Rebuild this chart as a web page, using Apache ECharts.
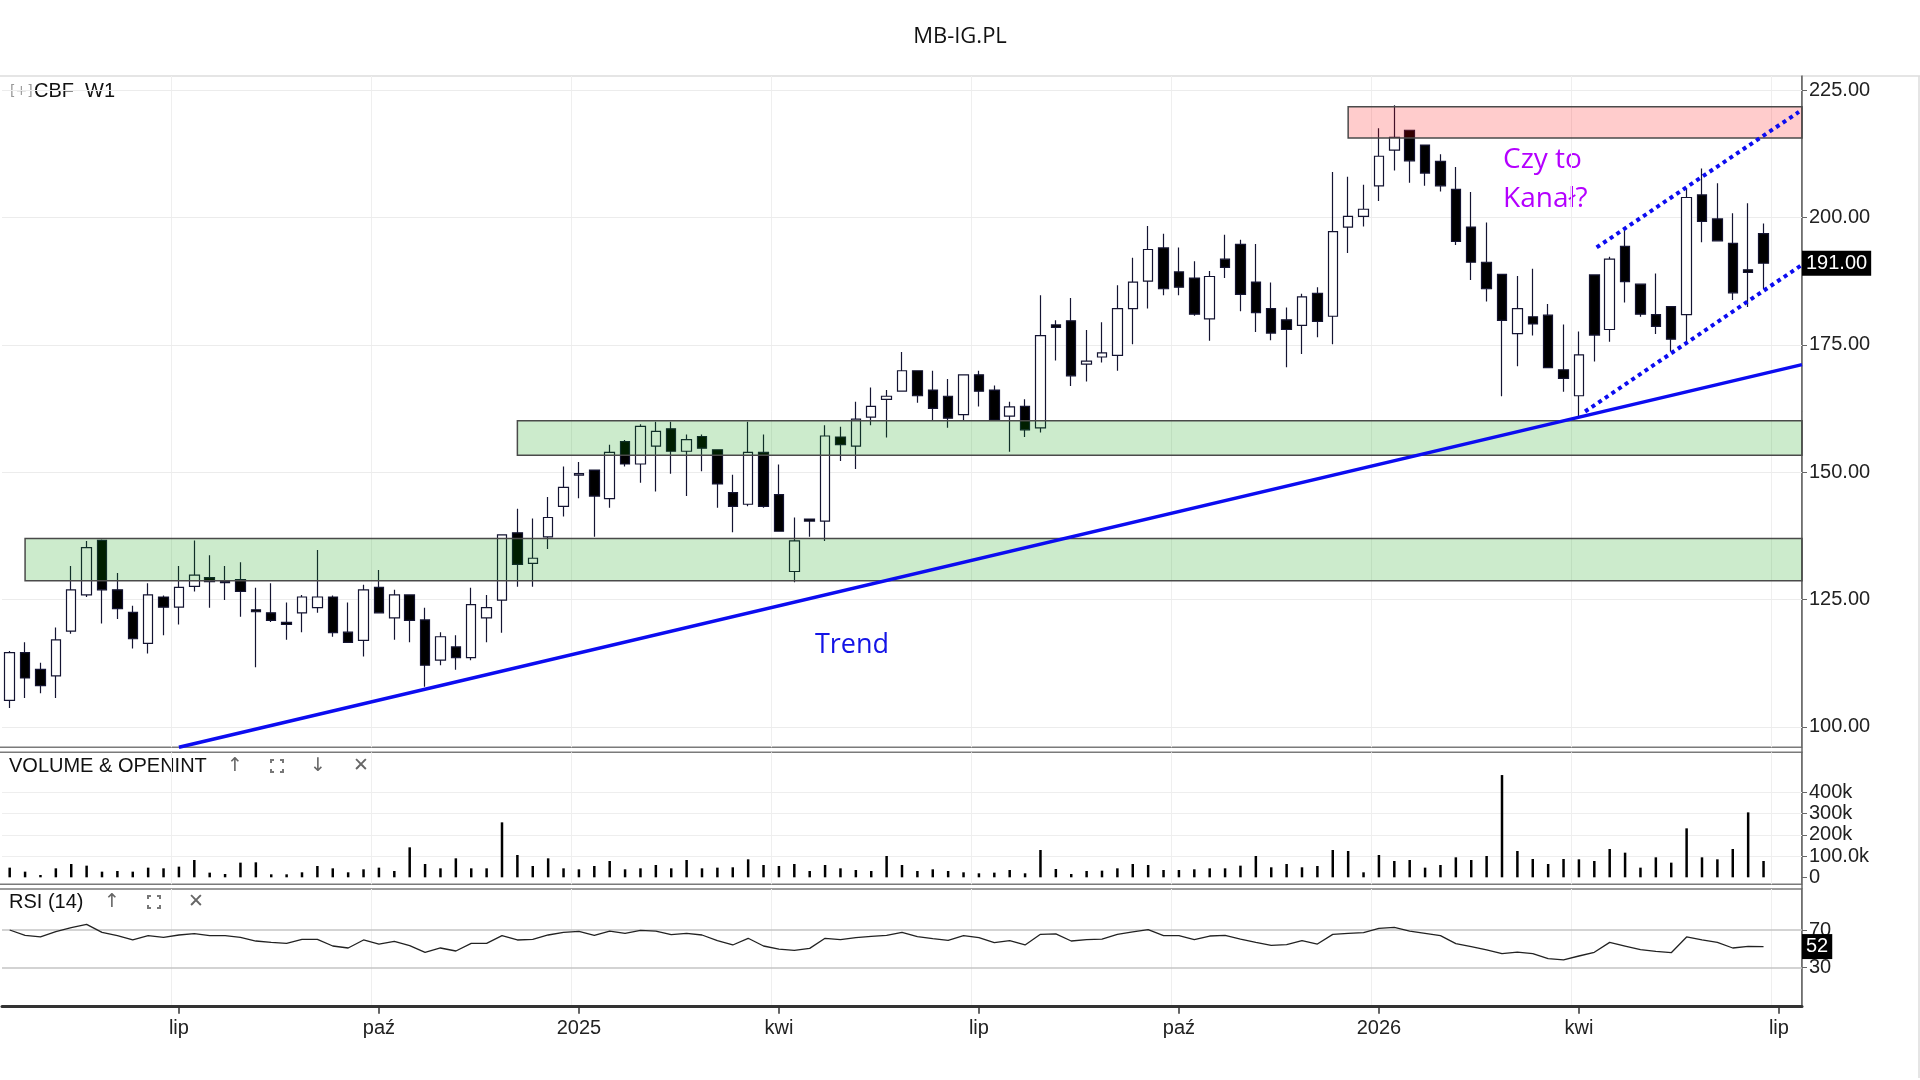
<!doctype html>
<html>
<head>
<meta charset="utf-8">
<title>MB-IG.PL</title>
<style>
  html, body { margin: 0; padding: 0; background: #fff; }
  #main { width: 1920px; height: 1080px; }
</style>
</head>
<body>
<div id="main"></div>
<script src="https://cdn.jsdelivr.net/npm/echarts@6/dist/echarts.min.js"></script>
<script>
// weekly candles, first week starts 2024-04-15, two empty weeks at the end of the axis
var weekCount = 117;
var xTickLabels = {
  '2024-07-01': 'lip', '2024-09-30': 'paź', '2024-12-30': '2025',
  '2025-03-31': 'kwi', '2025-06-30': 'lip', '2025-09-29': 'paź',
  '2025-12-29': '2026', '2026-03-30': 'kwi', '2026-06-29': 'lip'
};

var opens = [105.2,114.6,111.3,110.0,118.8,125.9,136.6,126.9,122.5,116.4,
  125.5,123.5,127.6,129.3,128.5,128.9,123.0,122.4,120.5,122.4,
  123.4,125.5,118.6,117.0,127.4,121.4,125.9,121.0,113.1,115.7,
  113.6,121.4,124.9,138.1,132.1,137.3,143.3,149.4,150.4,144.8,
  156.0,151.6,155.1,158.5,154.1,157.0,154.4,146.0,143.7,153.9,
  145.6,130.5,140.8,140.4,156.9,155.1,160.8,164.3,165.9,169.9,
  166.1,164.9,161.3,169.1,166.1,161.0,162.9,158.7,178.9,179.7,
  171.2,172.6,172.9,182.1,187.5,194.0,189.3,188.1,180.1,191.8,
  194.7,187.3,182.1,179.9,178.8,185.1,180.6,198.1,200.2,206.2,
  213.2,217.1,214.2,211.0,205.5,198.1,191.2,188.8,177.2,180.5,
  180.8,170.1,165.0,188.7,178.0,194.3,186.9,180.9,182.5,180.9,
  204.4,199.7,194.9,189.7,196.8];
var closes = [114.6,109.6,108.1,117.1,126.9,135.2,126.9,123.2,117.3,125.9,
  123.5,127.4,129.8,128.5,128.3,126.6,122.6,120.9,120.1,125.5,
  125.5,118.5,116.6,126.9,122.4,125.9,120.9,112.1,117.7,113.6,
  124.0,123.4,137.7,131.9,133.1,141.1,147.0,149.7,145.3,153.9,
  151.6,159.0,158.0,154.1,156.4,154.7,147.7,143.3,153.9,143.3,
  138.4,136.5,140.4,157.1,155.4,160.4,162.9,164.9,169.9,165.0,
  162.5,160.6,169.1,165.9,160.2,162.8,158.3,176.8,178.4,168.9,
  171.8,173.4,182.1,187.3,193.7,186.0,186.3,181.0,188.4,190.2,
  184.9,181.3,177.3,178.0,184.4,179.6,197.2,200.2,201.6,212.0,
  215.7,211.1,208.7,206.2,195.3,191.2,186.0,179.8,182.1,179.1,
  170.5,168.4,173.0,176.9,191.8,187.4,181.0,178.6,176.1,203.9,
  199.2,195.4,185.2,189.2,191.0];
var lows = [103.7,105.7,106.6,105.7,118.3,125.5,120.3,121.2,115.4,114.4,
  118.0,120.1,126.6,123.4,124.9,121.6,111.7,120.6,117.1,118.6,
  122.4,117.7,116.5,113.8,122.3,117.1,116.6,107.9,112.1,111.2,
  113.1,116.6,118.5,127.5,127.5,134.9,141.3,144.9,137.3,143.0,
  151.1,147.9,146.2,149.7,145.3,150.2,143.0,138.2,143.3,143.0,
  138.4,128.4,137.3,136.5,152.2,150.6,159.2,156.8,165.9,163.6,
  160.1,158.7,160.1,162.9,160.2,154.0,156.9,157.8,171.9,166.9,
  167.8,171.5,169.9,175.1,182.1,184.7,184.7,180.7,175.8,188.1,
  181.6,177.5,175.9,170.6,173.2,176.5,175.1,193.0,198.2,203.2,
  209.2,206.8,206.2,205.1,194.6,187.7,183.5,164.9,170.8,176.8,
  170.5,165.8,161.0,171.7,175.6,183.3,180.5,177.1,173.7,175.3,
  195.1,195.4,183.8,182.4,185.9];
var highs = [114.9,116.6,112.6,119.5,131.6,136.5,136.8,130.2,123.8,128.2,
  125.8,131.6,136.6,133.7,131.6,132.3,127.3,128.2,124.4,125.9,
  134.7,125.8,124.4,127.9,130.8,126.9,125.9,123.4,118.6,118.0,
  127.3,125.9,137.7,142.8,140.9,145.1,151.1,152.0,150.4,155.4,
  156.3,159.4,159.9,159.9,157.4,157.4,154.4,149.5,159.9,157.4,
  151.5,141.1,140.9,159.2,158.9,163.8,166.6,166.1,173.6,169.9,
  169.9,168.3,169.1,169.9,167.0,163.8,164.3,184.7,179.8,184.2,
  177.9,179.4,186.7,192.1,198.3,196.8,194.1,191.4,189.5,196.6,
  195.6,194.8,187.2,182.3,185.0,186.3,208.9,208.0,206.4,217.5,
  222.0,217.1,214.2,212.4,209.9,205.0,199.0,188.9,188.5,189.9,
  183.0,179.0,177.6,188.7,192.3,197.7,186.9,189.0,182.5,205.7,
  209.6,206.7,200.8,202.8,198.8];
var volumes = [45600,26700,11000,42400,62900,55000,26700,29900,26700,45600,
  42400,50300,81700,22000,15700,69200,70700,14100,14100,23600,
  53400,42400,23600,37700,45600,29900,141500,62900,42400,89600,
  42400,42400,259400,105300,53400,89600,42400,37700,53400,77000,
  37700,42400,58200,42400,81700,42400,45600,47200,84900,58200,
  53400,62900,29900,58200,42400,34600,29900,100600,58200,29900,
  37700,29900,23600,18900,22000,34600,18900,128900,39300,15700,
  29900,31400,42400,62900,58200,34600,34600,37700,42400,42400,
  55000,100600,47200,62900,47200,53400,128900,124200,23600,105300,
  77000,81700,45600,58200,94300,81700,100600,482600,124200,86500,
  62900,86500,84900,77000,133600,116300,45600,94300,69200,231100,
  94300,84900,133600,306500,77000];
var rsi14 = [70.0,64.3,62.6,68.2,72.5,76.0,67.5,64.0,59.4,64.0,
  62.2,64.7,66.1,64.0,64.0,62.2,58.3,56.9,55.8,60.1,
  60.1,53.0,50.9,59.4,55.1,58.0,53.4,46.3,50.9,47.7,
  55.8,55.8,64.0,59.4,60.1,64.7,67.5,68.6,64.3,68.9,
  66.5,69.6,68.9,65.0,66.5,64.7,58.7,54.1,61.2,53.0,
  49.8,48.4,50.5,61.2,59.7,61.9,63.3,64.3,67.5,62.9,
  60.8,59.0,64.0,61.9,56.6,58.7,54.1,65.4,65.8,58.3,
  59.7,60.4,65.4,67.9,70.4,64.0,64.0,59.7,63.6,64.3,
  60.4,56.9,53.7,54.4,58.7,55.1,65.4,66.5,67.2,71.8,
  72.8,68.9,66.5,64.0,55.5,52.3,48.8,44.9,46.6,44.9,
  39.6,38.2,42.4,46.3,56.9,53.0,49.1,47.3,45.9,62.6,
  59.4,56.9,50.9,52.7,52.4];

var priceTicks = [100, 125, 150, 175, 200, 225];
var volumeTicks = [0, 100000, 200000, 300000, 400000];
var volumeTickLabels = ['0', '100.0k', '200k', '300k', '400k'];
var rsiTicks = [30, 70];

// drawings, x in week index, y in price
var supportZones = [[1, 128.7, 137.0], [33, 153.3, 160.1]];
var resistanceZones = [[87, 215.6, 221.7]];
var trendLine = [[11, 96.0], [116.5, 171.1]];
var channelUpper = [[103.15, 194.1], [116.3, 220.7]];
var channelLower = [[102.4, 161.9], [116.4, 190.5]];

var weeks = [];
for (var i = 0; i < weekCount; i++) {
  weeks.push(new Date(Date.UTC(2024, 3, 15) + i * 7 * 86400000).toISOString().slice(0, 10));
}
var candles = [];
for (var k = 0; k < opens.length; k++) {
  candles.push([opens[k], closes[k], lows[k], highs[k]]);
}
var lastClose = closes[closes.length - 1];
var lastRsi = rsi14[rsi14.length - 1];

function isTick(index, value) { return xTickLabels[value] !== undefined; }

var font = 'Liberation Sans, Arial, sans-serif';
var axisRight = 1802;

function catAxis(gridIndex, withLabels) {
  return {
    type: 'category', gridIndex: gridIndex, data: weeks, boundaryGap: true,
    axisLine: { show: withLabels, onZero: false, lineStyle: { color: '#333', width: 3 } },
    axisTick: { show: withLabels, interval: isTick, alignWithLabel: true, length: 7, lineStyle: { color: '#333', width: 1.5 } },
    axisLabel: {
      show: withLabels, interval: isTick, margin: 12, fontSize: 20, color: '#222', fontFamily: font,
      formatter: function (v) { return xTickLabels[v] || ''; }
    },
    splitLine: { show: true, interval: isTick, lineStyle: { color: '#efefef', width: 1 } }
  };
}

function rightAxis(gridIndex, min, max, ticks, fmt) {
  return {
    type: 'value', gridIndex: gridIndex, position: 'right', min: min, max: max,
    axisLine: { show: true, onZero: false, lineStyle: { color: '#666', width: 1.5 } },
    axisTick: { show: true, customValues: ticks, length: 5, lineStyle: { color: '#666' } },
    axisLabel: { customValues: ticks, formatter: fmt, fontSize: 20, color: '#222', margin: 7, fontFamily: font },
    splitLine: { show: false }
  };
}

function hLines(values, color, width) {
  return values.map(function (v) { return { yAxis: v, lineStyle: { color: color, width: width, type: 'solid' } }; });
}

function zoneArea(z, fill) {
  return [
    { xAxis: z[0], yAxis: z[2], itemStyle: { color: fill, borderColor: '#4a4a4a', borderWidth: 1.5 } },
    { xAxis: weekCount - 0.5, yAxis: z[1] }
  ];
}

function segment(seg, type) {
  return [
    { coord: seg[0], lineStyle: { color: '#0c0cf0', width: type === 'solid' ? 3.5 : 4, type: type } },
    { coord: seg[1] }
  ];
}

function valueTag(value, text) {
  return {
    yAxis: value, lineStyle: { color: 'rgba(0,0,0,0)', width: 0 },
    label: {
      show: true, position: 'end', distance: 0, formatter: text, opacity: 1,
      backgroundColor: '#000', color: '#fff', fontSize: 20, padding: [3, 4, 2, 4], fontFamily: font
    }
  };
}

function corners(cx, cy) {
  var s = 6, c = 3, st = { stroke: '#777', lineWidth: 2, fill: null };
  return [
    { type: 'polyline', shape: { points: [[cx - s, cy - s + c], [cx - s, cy - s], [cx - s + c, cy - s]] }, style: st },
    { type: 'polyline', shape: { points: [[cx + s - c, cy - s], [cx + s, cy - s], [cx + s, cy - s + c]] }, style: st },
    { type: 'polyline', shape: { points: [[cx - s, cy + s - c], [cx - s, cy + s], [cx - s + c, cy + s]] }, style: st },
    { type: 'polyline', shape: { points: [[cx + s - c, cy + s], [cx + s, cy + s], [cx + s, cy + s - c]] }, style: st }
  ];
}

function txt(x, y, text, size, color, family, align) {
  return { type: 'text', x: x, y: y, style: { text: text, fill: color, font: size + 'px ' + family, align: align || 'left', verticalAlign: 'middle' } };
}

var graphics = [
  { type: 'line', shape: { x1: 0, y1: 76, x2: 1920, y2: 76 }, style: { stroke: '#dcdcdc', lineWidth: 1.5 } },
  { type: 'line', shape: { x1: 1919, y1: 76, x2: 1919, y2: 1078 }, style: { stroke: '#dcdcdc', lineWidth: 1.5 } },
  { type: 'line', shape: { x1: 0, y1: 747.3, x2: axisRight, y2: 747.3 }, style: { stroke: '#7a7a7a', lineWidth: 1.5 } },
  { type: 'line', shape: { x1: 0, y1: 752.3, x2: axisRight, y2: 752.3 }, style: { stroke: '#7a7a7a', lineWidth: 1.5 } },
  { type: 'line', shape: { x1: 0, y1: 884.3, x2: axisRight, y2: 884.3 }, style: { stroke: '#7a7a7a', lineWidth: 1.5 } },
  { type: 'line', shape: { x1: 0, y1: 889, x2: axisRight, y2: 889 }, style: { stroke: '#7a7a7a', lineWidth: 1.5 } },
  { type: 'line', shape: { x1: axisRight, y1: 76, x2: axisRight, y2: 1006.7 }, style: { stroke: '#666', lineWidth: 1.5 } },
  txt(10, 91, '[+]', 14, '#999', 'DejaVu Sans'),
  txt(34, 91, 'CBF  W1', 20, '#111', font),
  txt(9, 766, 'VOLUME & OPENINT', 20, '#111', font),
  txt(235, 766, '↑', 19, '#666', 'DejaVu Sans', 'center'),
  txt(318, 766, '↓', 19, '#666', 'DejaVu Sans', 'center'),
  txt(361, 766, '✕', 19, '#666', 'DejaVu Sans', 'center'),
  txt(9, 902, 'RSI (14)', 20, '#111', font),
  txt(112, 902, '↑', 19, '#666', 'DejaVu Sans', 'center'),
  txt(196, 902, '✕', 19, '#666', 'DejaVu Sans', 'center'),
  txt(852, 645, 'Trend', 27, '#1414e6', 'Open Sans', 'center'),
  txt(1503, 160, 'Czy to', 28, '#b400ff', 'Open Sans'),
  txt(1503, 199, 'Kanał?', 28, '#b400ff', 'Open Sans')
].concat(corners(277, 766), corners(154, 902));

var chart = echarts.init(document.getElementById('main'));
chart.setOption({
  animation: false,
  backgroundColor: '#fff',
  textStyle: { fontFamily: font },
  title: {
    text: 'MB-IG.PL', left: 'center', top: 21,
    textStyle: { fontFamily: 'Open Sans', fontSize: 22, fontWeight: 'normal', color: '#111' }
  },
  grid: [
    { left: 2, top: 76, width: 1800, height: 671.3, outerBoundsMode: 'none' },
    { left: 2, top: 752.3, width: 1800, height: 132, outerBoundsMode: 'none' },
    { left: 2, top: 889, width: 1800, height: 117.7, outerBoundsMode: 'none' }
  ],
  xAxis: [
    catAxis(0, false),
    { type: 'value', gridIndex: 0, min: -0.5, max: weekCount - 0.5, show: false },
    catAxis(1, false),
    catAxis(2, true)
  ],
  yAxis: [
    rightAxis(0, 96.0, 227.75, priceTicks, function (v) { return v.toFixed(2); }),
    rightAxis(1, -33000, 590000, volumeTicks, function (v) { return volumeTickLabels[volumeTicks.indexOf(v)]; }),
    rightAxis(2, -11.4, 113.5, rsiTicks, function (v) { return String(v); })
  ],
  series: [
    {
      name: 'CBF W1', type: 'candlestick', xAxisIndex: 0, yAxisIndex: 0, data: candles,
      barWidth: 10, z: 2,
      itemStyle: { color: '#ffffff', color0: '#000000', borderColor: '#141432', borderColor0: '#141432', borderWidth: 1.2 },
      emphasis: { disabled: true }
    },
    {
      name: 'priceGrid', type: 'line', xAxisIndex: 1, yAxisIndex: 0, data: [], silent: true,
      markLine: { z: 1, silent: true, symbol: ['none', 'none'], animation: false, label: { show: false },
        data: hLines(priceTicks, '#ececec', 1) }
    },
    {
      name: 'drawings', type: 'line', xAxisIndex: 1, yAxisIndex: 0, data: [], silent: true, clip: false,
      markArea: {
        z: 3, silent: true, animation: false, label: { show: false },
        data: supportZones.map(function (z) { return zoneArea(z, 'rgba(0,155,0,0.2)'); })
          .concat(resistanceZones.map(function (z) { return zoneArea(z, 'rgba(255,0,0,0.2)'); }))
      },
      markLine: {
        z: 5, silent: true, symbol: ['none', 'none'], animation: false, label: { show: false },
        data: [
          segment(trendLine, 'solid'),
          segment(channelUpper, 'dotted'),
          segment(channelLower, 'dotted'),
          valueTag(lastClose, lastClose.toFixed(2))
        ]
      }
    },
    {
      name: 'Volume', type: 'bar', xAxisIndex: 2, yAxisIndex: 1, data: volumes,
      barWidth: 2.5, itemStyle: { color: '#000' }, silent: true,
      markLine: { z: 1, silent: true, symbol: ['none', 'none'], animation: false, label: { show: false },
        data: hLines(volumeTicks.slice(1), '#eeeeee', 1) }
    },
    {
      name: 'RSI (14)', type: 'line', xAxisIndex: 3, yAxisIndex: 2, data: rsi14, clip: false,
      symbol: 'none', lineStyle: { color: '#222', width: 1.3 }, silent: true,
      markLine: {
        z: 3, silent: true, symbol: ['none', 'none'], animation: false, label: { show: false },
        data: hLines(rsiTicks, '#c4c4c4', 1.5).concat([valueTag(lastRsi, String(Math.round(lastRsi)))])
      }
    }
  ],
  graphic: graphics
});
</script>
</body>
</html>
